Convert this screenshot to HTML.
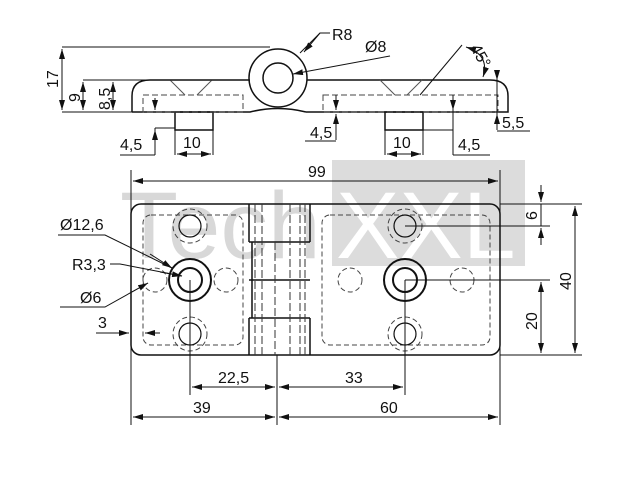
<!DOCTYPE html><html><head><style>body{margin:0;background:#fff}svg{display:block}text{font-family:"Liberation Sans",sans-serif;font-size:16px;fill:#111;stroke:none}</style></head><body>
<svg width="640" height="480" viewBox="0 0 640 480" stroke="#111" fill="none" stroke-width="1">
<defs><marker id="a" viewBox="0 0 10 6" refX="10" refY="3" markerWidth="10" markerHeight="6" orient="auto-start-reverse"><path d="M0,0L10,3L0,6z" fill="#111" stroke="none"/></marker></defs>
<rect x="332" y="160" width="193" height="106" fill="#dcdcdc" stroke="none"/>
<text x="120" y="258" style="font-size:95px;fill:#d8d8d8">Tech</text>
<text x="336" y="258" style="font-size:95px;fill:#fff">XXL</text>
<g stroke-width="1.5">
<path d="M132,112 L132,96 Q132,80 150,80 L250,80"/><path d="M306,80 L490,80 Q508,80 508,96 L508,112 L306,112 M132,112 L250,112 Q278,105 306,112"/>
<circle cx="278" cy="78" r="29" fill="#fff"/><circle cx="278" cy="78" r="15"/>
<rect x="175" y="112" width="38" height="18"/><rect x="385" y="112" width="38" height="18"/>
</g>
<g stroke-dasharray="6,3" stroke="#444"><rect x="143" y="95" width="100" height="17"/><rect x="323" y="95" width="175" height="17"/></g>
<path d="M170,80 L185,95 M212,80 L197,95 M380,80 L395,95 M422,80 L407,95" stroke="#555"/>
<path d="M62,47 H270 M62,112 H132 M83,80 H250"/><path d="M62,49V110" marker-start="url(#a)" marker-end="url(#a)"/>
<path d="M83,82V110" marker-start="url(#a)" marker-end="url(#a)"/><path d="M113,82V110" marker-start="url(#a)" marker-end="url(#a)"/>
<text transform="translate(58,88) rotate(-90)">17</text><text transform="translate(80,102) rotate(-90)">9</text><text transform="translate(110,110) rotate(-90)">8,5</text>
<path d="M155,128H175 M155,128V155 M155,155H120"/><path d="M155,98V110" marker-end="url(#a)"/><path d="M155,148V130" marker-end="url(#a)"/><text x="120" y="150">4,5</text>
<path d="M175,130V155 M213,130V155"/><path d="M177,154H211" marker-start="url(#a)" marker-end="url(#a)"/><text x="183" y="148">10</text>
<path d="M385,130V155 M423,130V155"/><path d="M387,154H421" marker-start="url(#a)" marker-end="url(#a)"/><text x="393" y="148">10</text>
<path d="M336,95V110 M336,114V140 M336,141H305"/><path d="M336,96V110" marker-end="url(#a)"/><path d="M336,130V114" marker-end="url(#a)"/><text x="310" y="138">4,5</text>
<path d="M453,95V155 M453,155H490 M423,130H453"/><path d="M453,96V110" marker-end="url(#a)"/><text x="458" y="150">4,5</text>
<path d="M497,70V130 M497,131H530"/><path d="M497,70V80" marker-end="url(#a)"/><path d="M497,125V114" marker-end="url(#a)"/><text x="502" y="128">5,5</text>
<path d="M462,45L420,95"/><path d="M466,47 Q490,55 483,77" marker-start="url(#a)" marker-end="url(#a)"/><text transform="translate(470,48) rotate(60)">45°</text>
<path d="M300,53 L320,33 H330"/><path d="M320,33 L304,52" marker-end="url(#a)"/><text x="332" y="40">R8</text>
<path d="M390,56 L293,74" marker-end="url(#a)"/><text x="365" y="52">Ø8</text>
<rect x="131" y="204" width="369" height="151" rx="10" stroke-width="1.5"/>
<g stroke-width="1.5"><path d="M249,204V242 M249,318V355 M310,204V242 M310,318V355 M249,242H310 M249,280H310 M249,318H310 M252,242V318"/></g>
<path d="M255,204V355 M262,204V355 M275,242V355 M290,204V355 M300,204V355 M305,204V355" stroke="#333" stroke-dasharray="8,3"/>
<g stroke-dasharray="5,3" stroke="#444">
<rect x="143" y="215" width="100" height="130" rx="8"/><rect x="322" y="215" width="168" height="130" rx="8"/>
<circle cx="155" cy="280" r="12"/><circle cx="226" cy="280" r="12"/><circle cx="350" cy="280" r="12"/><circle cx="462" cy="280" r="12"/>
<circle cx="190" cy="226" r="17"/><circle cx="190" cy="334" r="17"/><circle cx="405" cy="226" r="17"/><circle cx="405" cy="334" r="17"/>
</g>
<g stroke-width="1.2"><circle cx="190" cy="226" r="11"/><circle cx="190" cy="334" r="11"/><circle cx="405" cy="226" r="11"/><circle cx="405" cy="334" r="11"/></g>
<g stroke-width="2"><circle cx="190" cy="280" r="21"/><circle cx="190" cy="280" r="12"/><circle cx="405" cy="280" r="21"/><circle cx="405" cy="280" r="12"/></g>
<path d="M131,170V425 M500,170V425 M277,355V425 M190,280V395 M405,280V395"/>
<path d="M133,181H498" marker-start="url(#a)" marker-end="url(#a)"/><text x="308" y="177">99</text>
<path d="M192,387H275" marker-start="url(#a)" marker-end="url(#a)"/><path d="M279,387H403" marker-start="url(#a)" marker-end="url(#a)"/><text x="218" y="383">22,5</text><text x="345" y="383">33</text>
<path d="M133,417H275" marker-start="url(#a)" marker-end="url(#a)"/><path d="M279,417H498" marker-start="url(#a)" marker-end="url(#a)"/><text x="193" y="413">39</text><text x="380" y="413">60</text>
<path d="M500,204H582 M500,355H582 M405,226H550 M405,280H550"/><path d="M575,206V353" marker-start="url(#a)" marker-end="url(#a)"/><text transform="translate(571,290) rotate(-90)">40</text>
<path d="M541,282V353" marker-start="url(#a)" marker-end="url(#a)"/><text transform="translate(537,330) rotate(-90)">20</text>
<path d="M541,185V202" marker-end="url(#a)"/><path d="M541,245V228" marker-end="url(#a)"/><path d="M541,204V226"/><text transform="translate(537,220) rotate(-90)">6</text>
<path d="M58,235H105 L172,268"/><path d="M150,254L172,268" marker-end="url(#a)"/><text x="60" y="230">Ø12,6</text>
<path d="M110,264H120 L182,276"/><path d="M160,272L182,276" marker-end="url(#a)"/><text x="72" y="270">R3,3</text>
<path d="M60,307H105 L148,283"/><path d="M130,293L148,283" marker-end="url(#a)"/><text x="80" y="303">Ø6</text>
<path d="M96,333H125"/><path d="M110,333H129" marker-end="url(#a)"/><path d="M160,333H145" marker-end="url(#a)"/><text x="98" y="328">3</text>
</svg></body></html>
